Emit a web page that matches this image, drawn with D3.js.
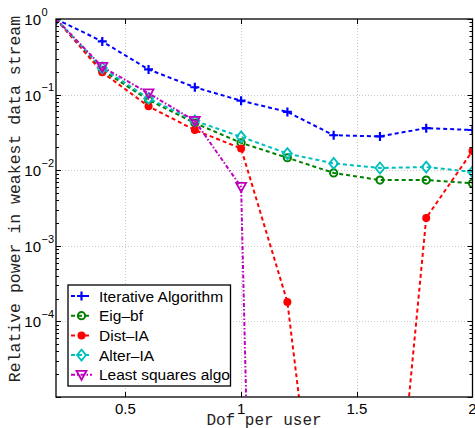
<!DOCTYPE html>
<html><head><meta charset="utf-8">
<script src="https://cdn.jsdelivr.net/npm/d3@7"></script>
<style>body{margin:0;background:#fff;}svg{display:block;}</style>
</head><body>
<script>
const dof = [0.2, 0.4, 0.6, 0.8, 1.0, 1.2, 1.4, 1.6, 1.8, 2.0];
const iterative = [1.0, 0.505, 0.215, 0.125, 0.083, 0.059, 0.029, 0.028, 0.036, 0.034];
const eigbf = [1.0, 0.21, 0.085, 0.042, 0.023, 0.0146, 0.0092, 0.0074, 0.0074, 0.0067];
const distIA = [1.0, 0.197, 0.070, 0.034, 0.0194, 0.00018, 1.7e-9, 1.0e-9, 0.00234, 0.018];
const alterIA = [1.0, 0.225, 0.089, 0.045, 0.0276, 0.0166, 0.0123, 0.0107, 0.011, 0.0095];
const leastSq = [1.0, 0.233, 0.104, 0.045, 0.006, 1e-28, 1e-28, 1e-28, 1e-28, 1e-28];
const seriesNames = ["Iterative Algorithm", "Eig\u2013bf", "Dist\u2013IA", "Alter\u2013IA", "Least squares algo"];
const xTicks = [0.5, 1, 1.5, 2];
const xTickLabels = ["0.5", "1", "1.5", "2"];
const yTickExps = [0, -1, -2, -3, -4];

const W = 475, H = 428;
const L = 56, R = 472.5, T = 19, B = 397;
const svg = d3.select("body").append("svg").attr("width", W).attr("height", H);
const x = d3.scaleLinear().domain([0.2, 2]).range([L, R]);
const y = d3.scaleLog().domain([1e-5, 1]).range([B, T]);

const series = [
  {name: seriesNames[0], vals: iterative, color: "#0000ff", dash: "4,3", marker: "plus"},
  {name: seriesNames[1], vals: eigbf, color: "#008000", dash: "4,3", marker: "circle"},
  {name: seriesNames[2], vals: distIA, color: "#ff0000", dash: "4,3", marker: "dot"},
  {name: seriesNames[3], vals: alterIA, color: "#00bfbf", dash: "4,3", marker: "diamond"},
  {name: seriesNames[4], vals: leastSq, color: "#bf00bf", dash: "4,2,1.5,2", marker: "tri"}
];

// grid
const grid = svg.append("g").attr("stroke", "#c8c8c8").attr("stroke-width", 1).attr("stroke-dasharray", "1,2");
xTicks.slice(0, 3).forEach(t => grid.append("line").attr("x1", Math.round(x(t)) + 0.5).attr("x2", Math.round(x(t)) + 0.5).attr("y1", T).attr("y2", B));
yTickExps.slice(1).forEach(e => grid.append("line").attr("x1", L).attr("x2", R).attr("y1", Math.round(y(Math.pow(10, e))) + 0.5).attr("y2", Math.round(y(Math.pow(10, e))) + 0.5));

// clip
svg.append("clipPath").attr("id", "clip").append("rect").attr("x", L).attr("y", T).attr("width", R - L).attr("height", B - T);
const plot = svg.append("g").attr("clip-path", "url(#clip)");

function drawMarker(g, type, cx, cy, color) {
  if (type === "plus") {
    g.append("path").attr("d", `M${cx-4.5},${cy}H${cx+4.5}M${cx},${cy-4.5}V${cy+4.5}`).attr("stroke", color).attr("stroke-width", 2.2).attr("fill", "none");
  } else if (type === "circle") {
    g.append("circle").attr("cx", cx).attr("cy", cy).attr("r", 3.6).attr("stroke", color).attr("stroke-width", 2).attr("fill", "none");
  } else if (type === "dot") {
    g.append("circle").attr("cx", cx).attr("cy", cy).attr("r", 4).attr("fill", color);
  } else if (type === "diamond") {
    g.append("path").attr("d", `M${cx},${cy-5.5}L${cx+4.5},${cy}L${cx},${cy+5.5}L${cx-4.5},${cy}Z`).attr("stroke", color).attr("stroke-width", 1.8).attr("fill", "none");
  } else if (type === "tri") {
    g.append("path").attr("d", `M${cx-5},${cy-4}L${cx+5},${cy-4}L${cx},${cy+5}Z`).attr("stroke", color).attr("stroke-width", 1.8).attr("fill", "none");
  }
}

const line = d3.line().x(d => x(d[0])).y(d => y(d[1]));
series.forEach(s => {
  const pts = dof.map((d, i) => [d, s.vals[i]]);
  plot.append("path").datum(pts).attr("d", line).attr("fill", "none").attr("stroke", s.color)
    .attr("stroke-width", 2).attr("stroke-dasharray", s.dash);
  pts.forEach(p => {
    const py = y(p[1]);
    if (py <= B + 10) drawMarker(plot, s.marker, x(p[0]), py, s.color);
  });
});

// axes frame
svg.append("rect").attr("x", L).attr("y", T).attr("width", R - L).attr("height", B - T)
  .attr("fill", "none").attr("stroke", "#000").attr("stroke-width", 1.3);

const ticks = svg.append("g").attr("stroke", "#000").attr("stroke-width", 1);
xTicks.slice(0, 3).forEach(t => {
  const px = Math.round(x(t)) + 0.5;
  ticks.append("line").attr("x1", px).attr("x2", px).attr("y1", B).attr("y2", B - 5);
  ticks.append("line").attr("x1", px).attr("x2", px).attr("y1", T).attr("y2", T + 5);
});
for (let e = -5; e <= 0; e++) {
  for (let m = 1; m <= 9; m++) {
    const v = m * Math.pow(10, e);
    if (v > 1 || v < 1e-5) continue;
    const py = Math.round(y(v)) + 0.5;
    const len = m === 1 ? 5 : 3;
    ticks.append("line").attr("x1", L).attr("x2", L + len).attr("y1", py).attr("y2", py);
    ticks.append("line").attr("x1", R).attr("x2", R - len).attr("y1", py).attr("y2", py);
  }
}

// tick labels
const font = "Liberation Sans, Arial, Helvetica, sans-serif";
xTicks.forEach((t, i) => {
  svg.append("text").attr("x", x(t)).attr("y", 414).attr("text-anchor", "middle")
    .attr("font-family", font).attr("font-size", 15).text(xTickLabels[i]);
});
yTickExps.forEach(e => {
  const py = y(Math.pow(10, e));
  svg.append("text").attr("x", 41).attr("y", py + 6).attr("text-anchor", "end")
    .attr("font-family", font).attr("font-size", 15).text("10");
  svg.append("text").attr("x", 41.5).attr("y", py - 3.3).attr("text-anchor", "start")
    .attr("font-family", font).attr("font-size", 11).text(e === 0 ? "0" : "\u2212" + (-e));
});

// axis titles
const mono = "Liberation Mono, Courier New, monospace";
svg.append("text").attr("x", 264).attr("y", 425).attr("text-anchor", "middle")
  .attr("font-family", mono).attr("font-size", 16).attr("fill", "#222").text("Dof per user");
svg.append("text").attr("transform", "translate(19.5,199) rotate(-90)").attr("text-anchor", "middle")
  .attr("font-family", mono).attr("font-size", 16.5).attr("fill", "#222").text("Relative power in weakest data stream");

// legend
const lg = svg.append("g");
lg.append("rect").attr("x", 68).attr("y", 285).attr("width", 162.5).attr("height", 101)
  .attr("fill", "#fff").attr("stroke", "#000").attr("stroke-width", 1.3);
series.forEach((s, i) => {
  const ly = 296 + i * 19.7;
  lg.append("line").attr("x1", 71).attr("x2", 92).attr("y1", ly).attr("y2", ly)
    .attr("stroke", s.color).attr("stroke-width", 2).attr("stroke-dasharray", s.dash);
  drawMarker(lg, s.marker, 81.5, ly, s.color);
  lg.append("text").attr("x", 99).attr("y", ly + 5.5).attr("font-family", font).attr("font-size", 15.5).text(s.name);
});
</script>
</body></html>
